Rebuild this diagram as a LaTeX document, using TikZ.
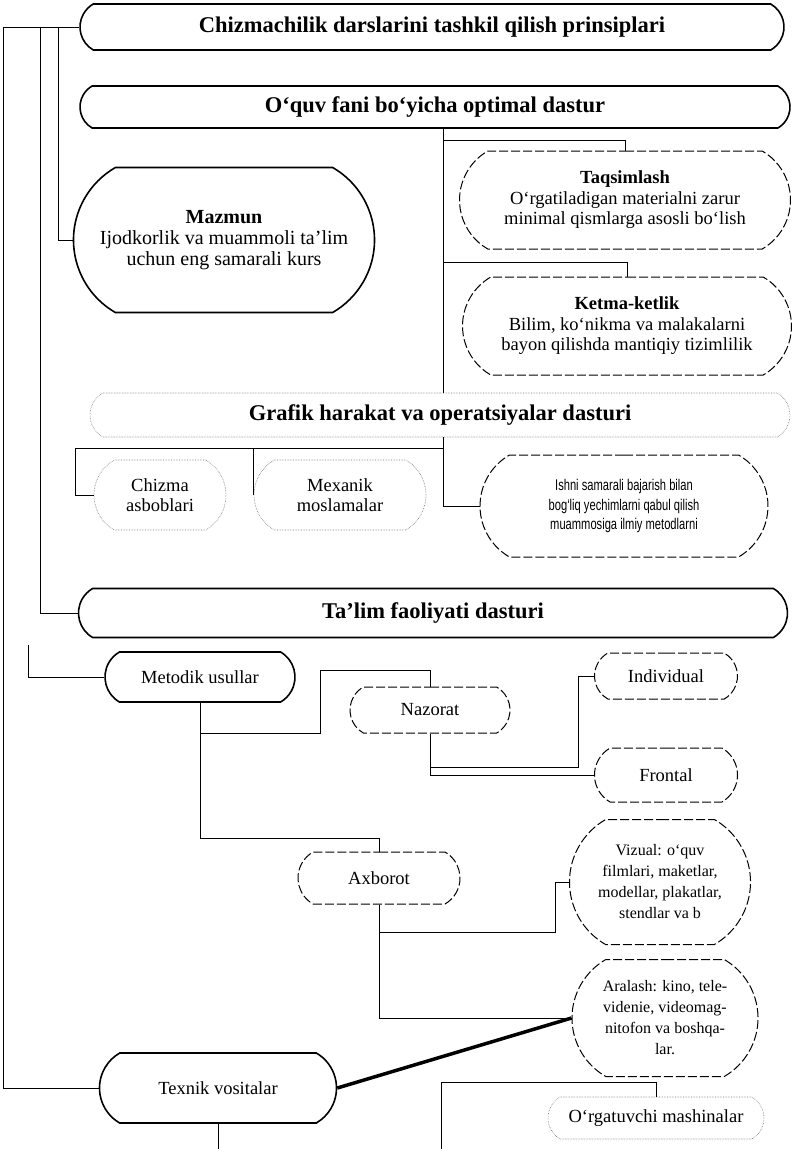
\documentclass[tikz,border=0pt]{standalone}
\usepackage{fontspec}
\setmainfont{Liberation Serif}
\newfontfamily\sansf[FakeStretch=0.72]{Liberation Sans}
\usetikzlibrary{shapes.misc,positioning}

\begin{document}
\begin{tikzpicture}[x=1pt,y=-1pt,
  pbox/.style={draw,rounded rectangle,rounded rectangle arc length=120,line width=1.6pt,align=center,inner sep=2pt},
  sbox/.style={pbox,line width=1pt,dash pattern=on 9pt off 3pt},
  fbox/.style={pbox,line width=.6pt,densely dotted,draw=black!55},
  big/.style={font=\fontsize{22.5}{25}\selectfont\bfseries},
  txt/.style={font=\fontsize{18.5}{20.5}\selectfont},
  sml/.style={font=\fontsize{16}{21}\selectfont},
  conn/.style={line width=.7pt},
  fat/.style={line width=3.5pt}]
\useasboundingbox (0,0) rectangle (800,1149);
% upper part
\node[pbox,big,minimum width=708pt,minimum height=46pt] (title) at (432,27) {Chizmachilik darslarini tashkil qilish prinsiplari};
\node[pbox,big,minimum width=714pt,minimum height=42pt] (optimal) at (435,107) {O‘quv fani bo‘yicha optimal dastur};
\node[pbox,font=\fontsize{20}{21}\selectfont,minimum width=305pt,minimum height=145pt] (mazmun) at (224,240) {\textbf{Mazmun}\\Ijodkorlik va muammoli ta’lim\\uchun eng samarali kurs};
\node[sbox,txt,minimum width=335pt,minimum height=98pt] (taqsim) at (625,200) {\textbf{Taqsimlash}\\O‘rgatiladigan materialni zarur\\minimal qismlarga asosli bo‘lish};
\node[sbox,txt,minimum width=333pt,minimum height=98pt] (ketma) at (627,326) {\textbf{Ketma-ketlik}\\Bilim, ko‘nikma va malakalarni\\bayon qilishda mantiqiy tizimlilik};
% graphic operations
\node[fbox,big,minimum width=704pt,minimum height=44pt] (grafik) at (440,415) {Grafik harakat va operatsiyalar dasturi};
\node[fbox,txt,minimum width=136pt,minimum height=70pt] (chizma) at (160,495) {Chizma\\asboblari};
\node[fbox,txt,minimum width=176pt,minimum height=70pt] (mexanik) at (340,495) {Mexanik\\moslamalar};
\node[sbox,font=\sansf\fontsize{15.5}{19.5}\selectfont,minimum width=292pt,minimum height=102pt] (ishni) at (624,506) {Ishni samarali bajarish bilan\\bog‘liq yechimlarni qabul qilish\\muammosiga ilmiy metodlarni};
% teaching activity
\node[pbox,big,minimum width=713pt,minimum height=49pt] (talim) at (433,613) {Ta’lim faoliyati dasturi};
\node[pbox,txt,minimum width=194pt,minimum height=50pt] (metodik) at (200,677) {Metodik usullar};
\node[sbox,txt,minimum width=164pt,minimum height=46pt] (nazorat) at (430,710) {Nazorat};
\node[sbox,txt,minimum width=147pt,minimum height=46pt] (individual) at (666,676) {Individual};
\node[sbox,txt,minimum width=147pt,minimum height=54pt] (frontal) at (666,775) {Frontal};
\node[sbox,txt,minimum width=166pt,minimum height=52pt] (axborot) at (379,878) {Axborot};
\node[sbox,sml,minimum width=185pt,minimum height=125pt] (vizual) at (660,882) {Vizual: o‘quv\\filmlari, maketlar,\\modellar, plakatlar,\\stendlar va b};
\node[sbox,sml,minimum width=190pt,minimum height=117pt] (aralash) at (665,1018) {Aralash: kino, tele-\\videnie, videomag-\\nitofon va boshqa-\\lar.};
\node[pbox,txt,minimum width=241pt,minimum height=70pt] (texnik) at (218,1088) {Texnik vositalar};
\node[fbox,txt,minimum width=220pt,minimum height=42pt] (orgat) at (656,1118) {O‘rgatuvchi mashinalar};
% helper points
\coordinate (l0) at (3,27);
\coordinate (l1) at (40,27);
\coordinate (l2) at (58,27);
\coordinate (l3) at (28,645);
\coordinate (sp) at (443,140);
\coordinate (sk) at (443,262);
\coordinate (gb) at (443,448);
\coordinate (gl) at (75,448);
\coordinate (n1) at (320,733);
\coordinate (n2) at (320,670);
\coordinate (ni) at (578,767);
\coordinate (ka) at (379,838);
\coordinate (av) at (555,932);
\coordinate (ok) at (441,1082);
\coordinate (ob) at (441,1149);
\coordinate (tb) at (218,1149);
% left margin
\draw[conn] (title.west) -- (l0) |- (texnik.west);
\draw[conn] (l1) |- (talim.west);
\draw[conn] (l2) |- (mazmun.west);
\draw[conn] (l3) |- (metodik.west);
% right spine
\draw[conn] (optimal.south -| sp) -- (grafik.north -| sp);
\draw[conn] (sp) -| (taqsim.north);
\draw[conn] (sk) -| (ketma.north);
\draw[conn] (grafik.south -| sp) |- (ishni.west);
\draw[conn] (gb) -- (gl) |- (chizma.west);
\draw[conn] (gb -| mexanik.west) -- (mexanik.west);
% methods
\draw[conn] (metodik.south) |- (ka) -- (axborot.north);
\draw[conn] (metodik.south |- n1) -- (n1) -- (n2) -| (nazorat.north);
\draw[conn] (nazorat.south) |- (frontal.west);
\draw[conn] (nazorat.south |- ni) -- (ni) |- (individual.west);
\draw[conn] (axborot.south) |- (av) |- (vizual.west);
\draw[conn] (axborot.south |- av) |- (aralash.west);
\draw[fat] (texnik.east) -- (aralash.west);
\draw[conn] (texnik.south) -- (tb);
\draw[conn] (ob) -- (ok) -| (orgat.north);
\end{tikzpicture}
\end{document}
